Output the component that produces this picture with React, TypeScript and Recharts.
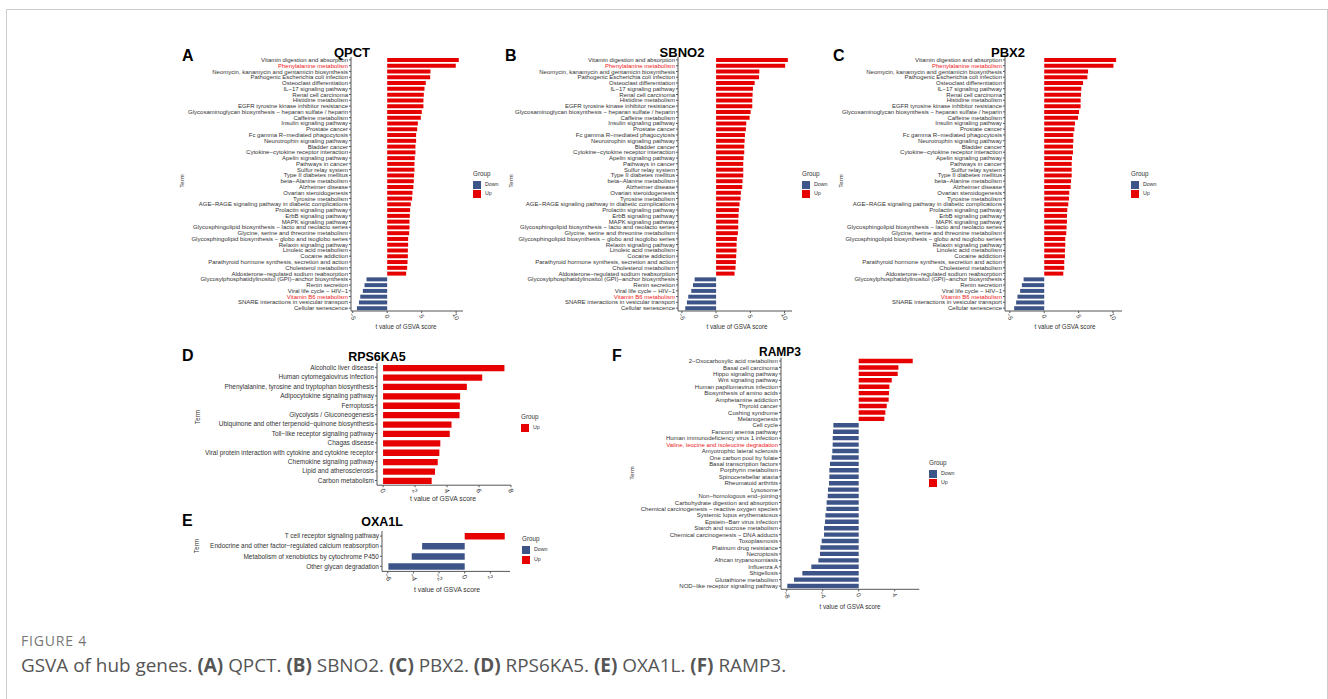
import React from 'react';
import { BarChart, Bar, XAxis, YAxis, Cell } from 'recharts';

// KEGG terms shared by QPCT / SBNO2 / PBX2
const abcTerms = [
  'Vitamin digestion and absorption',
  'Phenylalanine metabolism',
  'Neomycin, kanamycin and gentamicin biosynthesis',
  'Pathogenic Escherichia coli infection',
  'Osteoclast differentiation',
  'IL−17 signaling pathway',
  'Renal cell carcinoma',
  'Histidine metabolism',
  'EGFR tyrosine kinase inhibitor resistance',
  'Glycosaminoglycan biosynthesis − heparan sulfate / heparin',
  'Caffeine metabolism',
  'Insulin signaling pathway',
  'Prostate cancer',
  'Fc gamma R−mediated phagocytosis',
  'Neurotrophin signaling pathway',
  'Bladder cancer',
  'Cytokine−cytokine receptor interaction',
  'Apelin signaling pathway',
  'Pathways in cancer',
  'Sulfur relay system',
  'Type II diabetes mellitus',
  'beta−Alanine metabolism',
  'Alzheimer disease',
  'Ovarian steroidogenesis',
  'Tyrosine metabolism',
  'AGE−RAGE signaling pathway in diabetic complications',
  'Prolactin signaling pathway',
  'ErbB signaling pathway',
  'MAPK signaling pathway',
  'Glycosphingolipid biosynthesis − lacto and neolacto series',
  'Glycine, serine and threonine metabolism',
  'Glycosphingolipid biosynthesis − globo and isoglobo series',
  'Relaxin signaling pathway',
  'Linoleic acid metabolism',
  'Cocaine addiction',
  'Parathyroid hormone synthesis, secretion and action',
  'Cholesterol metabolism',
  'Aldosterone−regulated sodium reabsorption',
  'Glycosylphosphatidylinositol (GPI)−anchor biosynthesis',
  'Renin secretion',
  'Viral life cycle − HIV−1',
  'Vitamin B6 metabolism',
  'SNARE interactions in vesicular transport',
  'Cellular senescence',
];

const qpctValues = [10.39, 9.95, 6.28, 6.24, 5.6, 5.41, 5.31, 5.26, 5.26, 5.02, 4.88, 4.45, 4.35, 4.2, 4.2, 4.1, 4.1, 4.0, 3.96, 3.96, 3.9, 3.86, 3.8, 3.67, 3.62, 3.43, 3.33, 3.28, 3.24, 3.24, 3.19, 3.04, 3.04, 3.0, 3.0, 2.95, 2.9, 2.75, -3.0, -3.29, -3.53, -3.91, -4.1, -4.39];
const sbno2Values = [10.49, 10.1, 6.32, 6.27, 5.64, 5.39, 5.34, 5.29, 5.29, 5.05, 4.9, 4.41, 4.36, 4.22, 4.17, 4.12, 4.12, 4.02, 3.97, 3.97, 3.97, 3.87, 3.82, 3.63, 3.58, 3.43, 3.33, 3.28, 3.24, 3.24, 3.19, 3.04, 2.99, 2.99, 2.94, 2.89, 2.84, 2.7, -3.14, -3.38, -3.63, -4.07, -4.27, -4.51];
const pbx2Values = [10.45, 10.06, 6.37, 6.27, 5.64, 5.39, 5.34, 5.29, 5.29, 5.06, 4.91, 4.48, 4.38, 4.23, 4.23, 4.18, 4.18, 4.04, 3.99, 3.99, 3.99, 3.89, 3.84, 3.64, 3.59, 3.5, 3.35, 3.3, 3.3, 3.25, 3.2, 3.06, 3.06, 3.01, 3.01, 2.91, 2.91, 2.77, -3.0, -3.25, -3.5, -3.89, -4.08, -4.37];

const rps6ka5Terms = [
  'Alcoholic liver disease',
  'Human cytomegalovirus infection',
  'Phenylalanine, tyrosine and tryptophan biosynthesis',
  'Adipocytokine signaling pathway',
  'Ferroptosis',
  'Glycolysis / Gluconeogenesis',
  'Ubiquinone and other terpenoid−quinone biosynthesis',
  'Toll−like receptor signaling pathway',
  'Chagas disease',
  'Viral protein interaction with cytokine and cytokine receptor',
  'Chemokine signaling pathway',
  'Lipid and atherosclerosis',
  'Carbon metabolism',
];
const rps6ka5Values = [7.59, 6.2, 5.24, 4.82, 4.8, 4.78, 4.28, 4.17, 3.58, 3.52, 3.42, 3.25, 3.04];

const oxa1lTerms = [
  'T cell receptor signaling pathway',
  'Endocrine and other factor−regulated calcium reabsorption',
  'Metabolism of xenobiotics by cytochrome P450',
  'Other glycan degradation',
];
const oxa1lValues = [3.12, -3.32, -4.13, -5.95];

const ramp3Terms = [
  '2−Oxocarboxylic acid metabolism',
  'Basal cell carcinoma',
  'Hippo signaling pathway',
  'Wnt signaling pathway',
  'Human papillomavirus infection',
  'Biosynthesis of amino acids',
  'Amphetamine addiction',
  'Thyroid cancer',
  'Cushing syndrome',
  'Melanogenesis',
  'Cell cycle',
  'Fanconi anemia pathway',
  'Human immunodeficiency virus 1 infection',
  'Valine, leucine and isoleucine degradation',
  'Amyotrophic lateral sclerosis',
  'One carbon pool by folate',
  'Basal transcription factors',
  'Porphyrin metabolism',
  'Spinocerebellar ataxia',
  'Rheumatoid arthritis',
  'Lysosome',
  'Non−homologous end−joining',
  'Carbohydrate digestion and absorption',
  'Chemical carcinogenesis − reactive oxygen species',
  'Systemic lupus erythematosus',
  'Epstein−Barr virus infection',
  'Starch and sucrose metabolism',
  'Chemical carcinogenesis − DNA adducts',
  'Toxoplasmosis',
  'Platinum drug resistance',
  'Necroptosis',
  'African trypanosomiasis',
  'Influenza A',
  'Shigellosis',
  'Glutathione metabolism',
  'NOD−like receptor signaling pathway',
];
const ramp3Values = [6.0, 4.41, 4.33, 3.67, 3.41, 3.37, 3.33, 3.11, 2.96, 2.85, -2.81, -2.85, -2.89, -2.89, -2.93, -3.0, -3.19, -3.26, -3.26, -3.3, -3.41, -3.44, -3.56, -3.59, -3.7, -3.74, -3.85, -3.85, -4.11, -4.26, -4.3, -4.48, -5.26, -6.26, -7.19, -7.93];

const highlighted = ['Phenylalanine metabolism', 'Vitamin B6 metabolism', 'Valine, leucine and isoleucine degradation'];

const UP = '#E60000';
const DOWN = '#3C5488';
const FONT = '"Liberation Sans", Arial, Helvetica, sans-serif';
const CAPTION_FONT = '"Open Sans", "Noto Sans", sans-serif';
const AXIS = '#555';

const Txt: React.FC<{ x: number; y: number; size: number; bold?: boolean; center?: boolean; rotate?: number; color?: string; family?: string; spacing?: number; children: React.ReactNode }> = ({ x, y, size, bold, center, rotate, color, family, spacing, children }) => (
  <div
    style={{
      position: 'absolute',
      left: x,
      top: y,
      fontSize: size,
      fontWeight: bold ? 700 : 400,
      fontFamily: family || FONT,
      color: color || '#222',
      letterSpacing: spacing || 0,
      lineHeight: 1,
      whiteSpace: 'nowrap',
      transform: `translate(${center ? '-50%' : '0'}, -50%)${rotate ? ` rotate(${rotate}deg)` : ''}`,
    }}
  >
    {children}
  </div>
);

interface PanelSpec {
  letter: string;
  title: string;
  terms: string[];
  values: number[];
  left: number;
  top: number;
  yWidth: number;
  plotW: number;
  plotH: number;
  marginTop: number;
  marginRight: number;
  domain: [number, number];
  ticks: number[];
  fs: number;
  barSize: number;
  groups: string[];
  letterPos: [number, number];
  titlePos: [number, number];
  titleSize: number;
  termPos: [number, number];
  xLabPos: [number, number];
  legendPos: [number, number];
  sw: number;
}

const Panel: React.FC<{ p: PanelSpec }> = ({ p }) => {
  const data = p.terms.map((term, i) => ({ term, value: p.values[i] }));
  const axisH = 25;
  const width = p.yWidth + p.plotW + p.marginRight;
  const height = p.marginTop + p.plotH + axisH;
  const [lx, ly] = p.legendPos;
  return (
    <>
      <Txt x={p.letterPos[0]} y={p.letterPos[1]} size={16} bold color="#000">{p.letter}</Txt>
      <Txt x={p.titlePos[0]} y={p.titlePos[1]} size={p.titleSize} bold center color="#000">{p.title}</Txt>
      <div style={{ position: 'absolute', left: p.left, top: p.top }}>
        <BarChart width={width} height={height} data={data} layout="vertical" margin={{ top: p.marginTop, right: p.marginRight, bottom: 0, left: 0 }}>
          <XAxis
            type="number"
            domain={p.domain}
            ticks={p.ticks}
            allowDataOverflow
            height={axisH}
            axisLine={{ stroke: AXIS }}
            tickLine={{ stroke: AXIS }}
            tickSize={2}
            tickMargin={0}
            tick={(t: any) => (
              <g transform={`translate(${t.x},${t.y + 3.5}) rotate(65)`}>
                <text textAnchor="middle" dy="0.35em" fontSize={p.fs + 0.3} fontFamily={FONT} fill="#333">
                  {String(t.payload.value).replace('-', '−')}
                </text>
              </g>
            )}
          />
          <YAxis
            type="category"
            dataKey="term"
            width={p.yWidth}
            interval={0}
            axisLine={{ stroke: AXIS }}
            tickLine={{ stroke: AXIS }}
            tickSize={2}
            tickMargin={1}
            tick={(t: any) => (
              <text
                x={t.x}
                y={t.y}
                dy={p.fs * 0.35}
                textAnchor="end"
                fontSize={p.fs}
                fontFamily={FONT}
                fill={highlighted.includes(t.payload.value) ? '#F02020' : '#333'}
              >
                {t.payload.value}
              </text>
            )}
          />
          <Bar dataKey="value" barSize={p.barSize} isAnimationActive={false}>
            {data.map((d, i) => (
              <Cell key={i} fill={d.value >= 0 ? UP : DOWN} />
            ))}
          </Bar>
        </BarChart>
      </div>
      <Txt x={p.termPos[0]} y={p.termPos[1]} size={p.fs} center rotate={-90} color="#333">Term</Txt>
      <Txt x={p.xLabPos[0]} y={p.xLabPos[1]} size={p.fs + 0.3} center color="#333">t value of GSVA score</Txt>
      <Txt x={lx} y={ly} size={6.3} color="#333">Group</Txt>
      {p.groups.map((g, i) => (
        <React.Fragment key={g}>
          <div style={{ position: 'absolute', left: lx, top: ly + 7 + i * (p.sw + 1.8), width: p.sw, height: p.sw, background: g === 'Up' ? UP : DOWN }} />
          <Txt x={lx + 12} y={ly + 7 + i * (p.sw + 1.8) + p.sw / 2} size={5.3} color="#333">{g}</Txt>
        </React.Fragment>
      ))}
    </>
  );
};

const panels: PanelSpec[] = [
  {
    letter: 'A', title: 'QPCT', terms: abcTerms, values: qpctValues,
    left: 175, top: 45, yWidth: 176, plotW: 112, plotH: 254, marginTop: 12, marginRight: 20,
    domain: [-5.25, 11], ticks: [-5, 0, 5, 10], fs: 6, barSize: 4,
    groups: ['Down', 'Up'], letterPos: [182, 56], titlePos: [352, 52], titleSize: 13,
    termPos: [182, 181], xLabPos: [406, 327], legendPos: [473, 174], sw: 7.5,
  },
  {
    letter: 'B', title: 'SBNO2', terms: abcTerms, values: sbno2Values,
    left: 500, top: 45, yWidth: 178, plotW: 114, plotH: 254, marginTop: 12, marginRight: 20,
    domain: [-5.57, 11.1], ticks: [-5, 0, 5, 10], fs: 6, barSize: 4,
    groups: ['Down', 'Up'], letterPos: [505, 56], titlePos: [682, 52], titleSize: 13,
    termPos: [511, 181], xLabPos: [737, 327], legendPos: [802, 174], sw: 7.5,
  },
  {
    letter: 'C', title: 'PBX2', terms: abcTerms, values: pbx2Values,
    left: 828, top: 45, yWidth: 177, plotW: 117, plotH: 254, marginTop: 12, marginRight: 20,
    domain: [-5.7, 11.3], ticks: [-5, 0, 5, 10], fs: 6, barSize: 4,
    groups: ['Down', 'Up'], letterPos: [833, 56], titlePos: [1008, 52], titleSize: 13,
    termPos: [841, 181], xLabPos: [1065, 327], legendPos: [1131, 174], sw: 7.5,
  },
  {
    letter: 'D', title: 'RPS6KA5', terms: rps6ka5Terms, values: rps6ka5Values,
    left: 190, top: 355, yWidth: 187, plotW: 134, plotH: 122.2, marginTop: 8, marginRight: 15,
    domain: [-0.38, 8], ticks: [0, 2, 4, 6, 8], fs: 6.5, barSize: 6.3,
    groups: ['Up'], letterPos: [182, 356], titlePos: [377, 357], titleSize: 12.5,
    termPos: [198, 417], xLabPos: [443, 499], legendPos: [521, 417], sw: 8,
  },
  {
    letter: 'E', title: 'OXA1L', terms: oxa1lTerms, values: oxa1lValues,
    left: 185, top: 525, yWidth: 197, plotW: 128, plotH: 40.4, marginTop: 6, marginRight: 15,
    domain: [-6.45, 3.53], ticks: [-6, -4, -2, 0, 2], fs: 6.5, barSize: 6.5,
    groups: ['Down', 'Up'], letterPos: [182, 521], titlePos: [382, 522], titleSize: 12.5,
    termPos: [197, 546], xLabPos: [447, 590], legendPos: [522, 539], sw: 8,
  },
  {
    letter: 'F', title: 'RAMP3', terms: ramp3Terms, values: ramp3Values,
    left: 630, top: 350, yWidth: 151, plotW: 138.3, plotH: 231.5, marginTop: 7.8, marginRight: 20,
    domain: [-8.63, 6.73], ticks: [-8, -4, 0, 4], fs: 6, barSize: 4.4,
    groups: ['Down', 'Up'], letterPos: [612, 356], titlePos: [780, 352], titleSize: 12,
    termPos: [632, 473], xLabPos: [850, 607], legendPos: [929, 463], sw: 7.5,
  },
];

export default function App() {
  return (
    <div style={{ position: 'absolute', left: 0, top: 0, width: 1328, height: 699, background: '#fff', overflow: 'hidden', fontFamily: FONT }}>
      <div style={{ position: 'absolute', left: 6, top: 9, width: 1320, height: 700, borderLeft: '1px solid #ccc', borderTop: '1px solid #ccc', borderRight: '1px solid #ccc' }} />
      {panels.map((p) => (
        <Panel key={p.letter} p={p} />
      ))}
      <Txt x={21} y={641} size={14} color="#777" family={CAPTION_FONT} spacing={0.8}>FIGURE 4</Txt>
      <Txt x={21} y={665} size={18.9} color="#555" family={CAPTION_FONT}>
        GSVA of hub genes. <b>(A)</b> QPCT. <b>(B)</b> SBNO2. <b>(C)</b> PBX2. <b>(D)</b> RPS6KA5. <b>(E)</b> OXA1L. <b>(F)</b> RAMP3.
      </Txt>
    </div>
  );
}
